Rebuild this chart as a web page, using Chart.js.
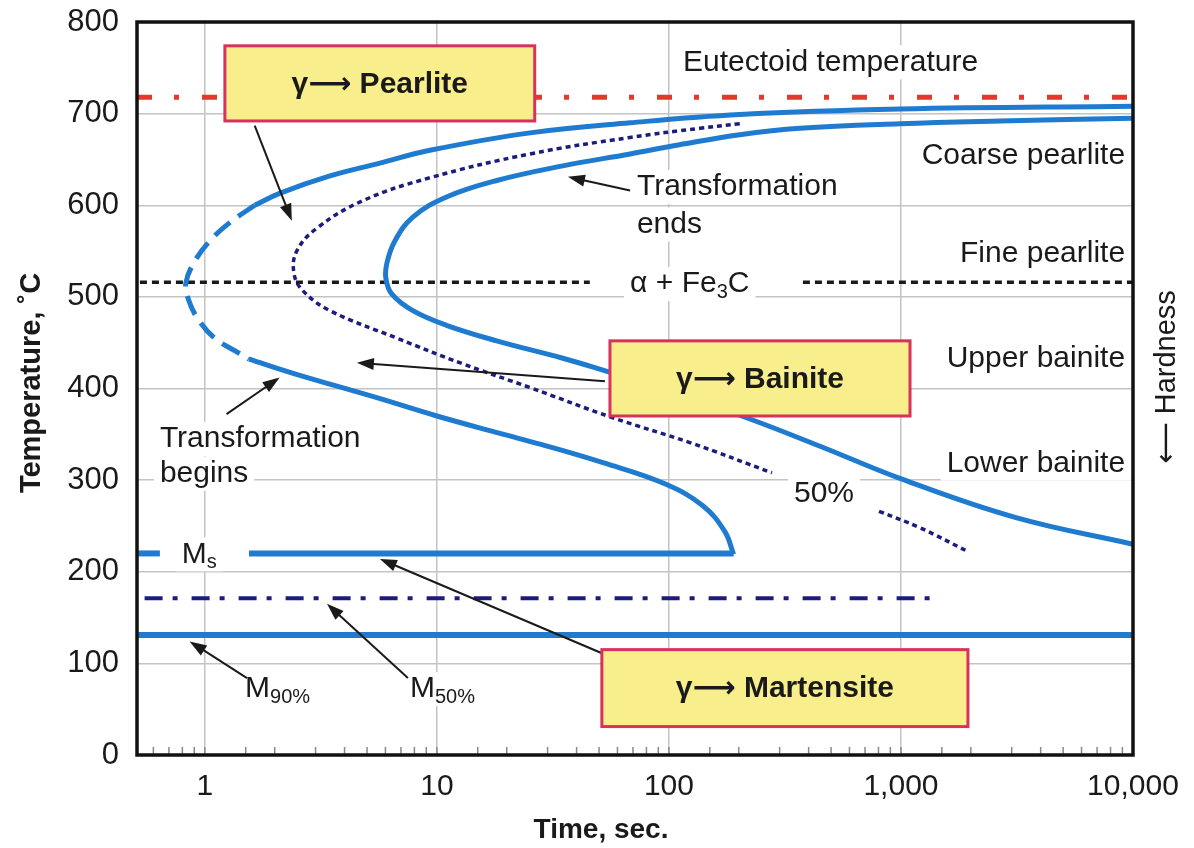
<!DOCTYPE html>
<html>
<head>
<meta charset="utf-8">
<script src="https://cdn.jsdelivr.net/npm/chart.js@4.4.0/dist/chart.umd.min.js"></script>
<style>
  html, body { margin: 0; padding: 0; background: #fff; }
</style>
</head>
<body>
<canvas id="ttt" width="1194" height="848"></canvas>
<script>
// time in seconds (log axis), temperature in degrees C
const startUpperTime = [1.64, 2.10, 3.46, 5.68, 9.33, 25.2, 68, 202, 990, 10000];
const startUpperTemp = [600, 613, 632, 646, 660, 679, 690, 699, 705, 708];

const startNoseTime = [1.64, 1.28, 1.05, 0.905, 0.828, 0.853, 0.933, 1.10, 1.35, 1.55];
const startNoseTemp = [600, 581, 561, 539, 515, 496, 476, 455, 441, 432];

const startLowerTime = [1.55, 2.44, 5.51, 10, 18.7, 28.1, 52, 96, 140, 174, 190];
const startLowerTemp = [432, 416, 390, 370, 351, 339, 319, 296, 272, 244, 219];

const halfTimeA = [202, 136, 68, 25.2, 9.33, 4.8, 3.04, 2.49, 2.42, 2.64, 3.46, 6.72, 12.9, 25.2, 57.4, 123, 278];
const halfTempA = [689, 684, 674, 656, 630, 605, 575, 550, 526, 507, 485, 455, 427, 401, 368, 341, 308];
const halfTimeB = [804, 1208, 1944];
const halfTempB = [266, 248, 222];

const endTime = [10000, 2671, 990, 367, 202, 111, 68, 34.9, 18.1, 11.0, 7.88, 6.59, 6.09, 6.03, 6.40, 7.88, 11.0, 18.1, 34.9, 52, 82.8, 206, 448, 1010, 3133, 10000];
const endTemp = [695, 692, 689, 684, 677, 666, 656, 643, 627, 609, 587, 561, 537, 520, 503, 485, 469, 452, 433, 420, 404, 370, 337, 301, 259, 230];

const eutectoidTemp = 718;
const pearliteBainiteTemp = 516;
const msTemp = 220;
const m50Temp = 171;
const m90Temp = 131;

const xMin = 0.51, xMax = 10000;

function pts(ts, vs) { return ts.map((t, i) => ({ x: t, y: vs[i] })); }

const BLUE = '#1f7bd0';
const NAVY = '#1b1c7c';
const RED = '#e2392a';
const INK = '#1a1a1a';
const FONT = "'Liberation Sans', 'DejaVu Sans', sans-serif";

function flat(t0, t1, v) { return [{ x: t0, y: v }, { x: t1, y: v }]; }

const datasets = [
  { data: pts(startUpperTime, startUpperTemp), borderColor: BLUE, borderWidth: 5, tension: 0.4 },
  { data: pts(startNoseTime, startNoseTemp), borderColor: BLUE, borderWidth: 5, tension: 0.4, borderDash: [20, 10] },
  { data: pts(startLowerTime, startLowerTemp), borderColor: BLUE, borderWidth: 5, tension: 0.4 },
  { data: pts(endTime, endTemp), borderColor: BLUE, borderWidth: 5, tension: 0.4 },
  { data: pts(halfTimeA, halfTempA), borderColor: NAVY, borderWidth: 3.5, tension: 0.4, borderDash: [5, 4] },
  { data: pts(halfTimeB, halfTempB), borderColor: NAVY, borderWidth: 3.5, tension: 0.4, borderDash: [5, 4] },
  { data: flat(xMin, xMax, eutectoidTemp), borderColor: RED, borderWidth: 5, borderDash: [15, 22, 5, 23] },
  { data: flat(0.525, 45.6, pearliteBainiteTemp), borderColor: INK, borderWidth: 3.5, borderDash: [7, 5] },
  { data: flat(378, xMax, pearliteBainiteTemp), borderColor: INK, borderWidth: 3.5, borderDash: [7, 5] },
  { data: flat(xMin, 0.64, msTemp), borderColor: BLUE, borderWidth: 6 },
  { data: flat(1.55, 190, msTemp), borderColor: BLUE, borderWidth: 6 },
  { data: flat(0.55, 1473, m50Temp), borderColor: NAVY, borderWidth: 4, borderDash: [18, 10, 5, 14] },
  { data: flat(xMin, xMax, m90Temp), borderColor: BLUE, borderWidth: 6 }
].map(d => Object.assign({ showLine: true, pointRadius: 0, fill: false, borderCapStyle: 'butt' }, d));

// annotation boxes, arrows and labels, placed in data coordinates
const boxes = [
  { t0: 1.22, t1: 26.4, v0: 774, v1: 692, text: 'γ⟶ Pearlite' },
  { t0: 55.7, t1: 1094, v0: 452, v1: 370, text: 'γ⟶ Bainite' },
  { t0: 51.4, t1: 1944, v0: 115, v1: 31, text: 'γ⟶ Martensite' }
];
const arrows = [
  [1.64, 687, 2.37, 583],
  [68, 616, 36.7, 631],
  [53, 408, 4.52, 428],
  [1.24, 372, 2.1, 412],
  [58.5, 105, 5.68, 214],
  [1.52, 84, 0.86, 124],
  [7.5, 84, 3.36, 165]
];
const labels = [
  { t: 115, v: 756, align: 'left', runs: [['Eutectoid temperature']] },
  { t: 9245, v: 654, align: 'right', runs: [['Coarse pearlite']] },
  { t: 9245, v: 547, align: 'right', runs: [['Fine pearlite']] },
  { t: 9245, v: 432, align: 'right', runs: [['Upper bainite']] },
  { t: 9245, v: 318, align: 'right', runs: [['Lower bainite']] },
  { t: 72.8, v: 620, align: 'left', runs: [['Transformation']] },
  { t: 72.8, v: 579, align: 'left', runs: [['ends']] },
  { t: 123, v: 514, align: 'center', runs: [['α + Fe'], ['3', 1], ['C']] },
  { t: 466, v: 285, align: 'center', runs: [['50%']] },
  { t: 0.64, v: 345, align: 'left', runs: [['Transformation']] },
  { t: 0.64, v: 307, align: 'left', runs: [['begins']] },
  { t: 0.796, v: 219, align: 'left', runs: [['M'], ['s', 1]] },
  { t: 1.49, v: 72, align: 'left', runs: [['M'], ['90%', 1]] },
  { t: 7.65, v: 72, align: 'left', runs: [['M'], ['50%', 1]] }
];

function runFont(sub) { return (sub ? '20px ' : '30px ') + FONT; }

function runsWidth(ctx, runs) {
  let w = 0;
  runs.forEach(r => { ctx.font = runFont(r[1]); w += ctx.measureText(r[0]).width; });
  return w;
}

function labelBox(chart, l) {
  const ctx = chart.ctx;
  const x = chart.scales.x.getPixelForValue(l.t);
  const y = chart.scales.y.getPixelForValue(l.v);
  const w = runsWidth(ctx, l.runs);
  const left = l.align === 'left' ? x : l.align === 'right' ? x - w : x - w / 2;
  return { left, y, w };
}

function drawArrow(ctx, x0, y0, x1, y1) {
  const a = Math.atan2(y1 - y0, x1 - x0);
  const len = 17, half = 6;
  ctx.strokeStyle = INK;
  ctx.fillStyle = INK;
  ctx.lineWidth = 2;
  ctx.beginPath();
  ctx.moveTo(x0, y0);
  ctx.lineTo(x1 - Math.cos(a) * len * 0.8, y1 - Math.sin(a) * len * 0.8);
  ctx.stroke();
  ctx.beginPath();
  ctx.moveTo(x1, y1);
  ctx.lineTo(x1 - Math.cos(a) * len + Math.sin(a) * half, y1 - Math.sin(a) * len - Math.cos(a) * half);
  ctx.lineTo(x1 - Math.cos(a) * len - Math.sin(a) * half, y1 - Math.sin(a) * len + Math.cos(a) * half);
  ctx.closePath();
  ctx.fill();
}

const annotate = {
  id: 'annotate',
  beforeDatasetsDraw(chart) {
    // labels sit on white, breaking the grid behind them
    const ctx = chart.ctx;
    ctx.save();
    ctx.fillStyle = '#fff';
    labels.forEach(l => {
      const b = labelBox(chart, l);
      ctx.fillRect(b.left - 6, b.y - 17, b.w + 12, 34);
    });
    ctx.restore();
  },
  afterDatasetsDraw(chart) {
    const ctx = chart.ctx, xs = chart.scales.x, ys = chart.scales.y;
    const area = chart.chartArea;
    ctx.save();

    // short inward ticks along the time axis
    ctx.strokeStyle = '#888';
    ctx.lineWidth = 1.5;
    xs.ticks.forEach(t => {
      const x = xs.getPixelForValue(t.value);
      if (x <= area.left + 2 || x >= area.right - 2) return;
      ctx.beginPath();
      ctx.moveTo(x, area.bottom);
      ctx.lineTo(x, area.bottom - 8);
      ctx.stroke();
    });

    arrows.forEach(a => drawArrow(ctx, xs.getPixelForValue(a[0]), ys.getPixelForValue(a[1]),
      xs.getPixelForValue(a[2]), ys.getPixelForValue(a[3])));

    boxes.forEach(b => {
      const x0 = xs.getPixelForValue(b.t0), x1 = xs.getPixelForValue(b.t1);
      const y0 = ys.getPixelForValue(b.v0), y1 = ys.getPixelForValue(b.v1);
      ctx.fillStyle = '#f8ee8c';
      ctx.fillRect(x0, y0, x1 - x0, y1 - y0);
      ctx.strokeStyle = '#d8325c';
      ctx.lineWidth = 3;
      ctx.strokeRect(x0, y0, x1 - x0, y1 - y0);
      ctx.fillStyle = INK;
      ctx.font = 'bold 30px ' + FONT;
      ctx.textAlign = 'center';
      ctx.textBaseline = 'middle';
      ctx.fillText(b.text, (x0 + x1) / 2, (y0 + y1) / 2 + 1);
    });

    ctx.fillStyle = INK;
    ctx.textAlign = 'left';
    ctx.textBaseline = 'middle';
    labels.forEach(l => {
      const b = labelBox(chart, l);
      let x = b.left;
      l.runs.forEach(r => {
        ctx.font = runFont(r[1]);
        ctx.fillText(r[0], x, b.y + (r[1] ? 8 : 0));
        x += ctx.measureText(r[0]).width;
      });
    });

    // plot frame
    ctx.strokeStyle = '#111';
    ctx.lineWidth = 3.5;
    ctx.strokeRect(area.left, area.top, area.right - area.left, area.bottom - area.top);
    ctx.restore();
  },
  afterDraw(chart) {
    const ctx = chart.ctx;
    ctx.save();
    ctx.fillStyle = INK;
    ctx.textAlign = 'center';
    ctx.textBaseline = 'middle';
    ctx.font = 'bold 28px ' + FONT;
    ctx.fillText('Time, sec.', 601, 830);

    ctx.translate(32, 383);
    ctx.rotate(-Math.PI / 2);
    ctx.font = 'bold 29px ' + FONT;
    ctx.fillText('Temperature, ˚C', 0, 0);
    ctx.restore();

    ctx.save();
    ctx.translate(1167, 377);
    ctx.rotate(-Math.PI / 2);
    ctx.fillStyle = INK;
    ctx.textAlign = 'center';
    ctx.textBaseline = 'middle';
    ctx.font = '29px ' + FONT;
    ctx.fillText('⟵ Hardness', 0, 0);
    ctx.restore();
  }
};

function isDecade(v) {
  const l = Math.log10(v);
  return Math.abs(l - Math.round(l)) < 1e-6;
}

new Chart(document.getElementById('ttt'), {
  type: 'scatter',
  data: { datasets: datasets },
  plugins: [annotate],
  options: {
    responsive: false,
    animation: false,
    layout: { padding: { top: 22, right: 61, left: 0, bottom: 0 } },
    plugins: { legend: { display: false }, tooltip: { enabled: false } },
    scales: {
      x: {
        type: 'logarithmic',
        min: xMin,
        max: xMax,
        border: { display: false },
        grid: {
          drawTicks: false,
          lineWidth: 1.5,
          color: c => (c.tick && isDecade(c.tick.value) ? '#c4c4c4' : 'rgba(0,0,0,0)')
        },
        ticks: {
          autoSkip: false,
          maxRotation: 0,
          padding: 14,
          color: INK,
          font: { family: FONT, size: 30 },
          callback: v => (v >= 1 && isDecade(v) ? Math.round(v).toLocaleString('en-US') : '')
        },
        afterFit: s => { s.height = 93; s.paddingLeft = 0; s.paddingRight = 0; }
      },
      y: {
        min: 0,
        max: 800,
        border: { display: false },
        grid: { drawTicks: false, lineWidth: 1.5, color: '#c4c4c4' },
        ticks: {
          stepSize: 100,
          padding: 18,
          color: INK,
          font: { family: FONT, size: 31 }
        },
        afterFit: s => { s.width = 137; s.paddingTop = 0; s.paddingBottom = 0; }
      }
    }
  }
});
</script>
</body>
</html>
